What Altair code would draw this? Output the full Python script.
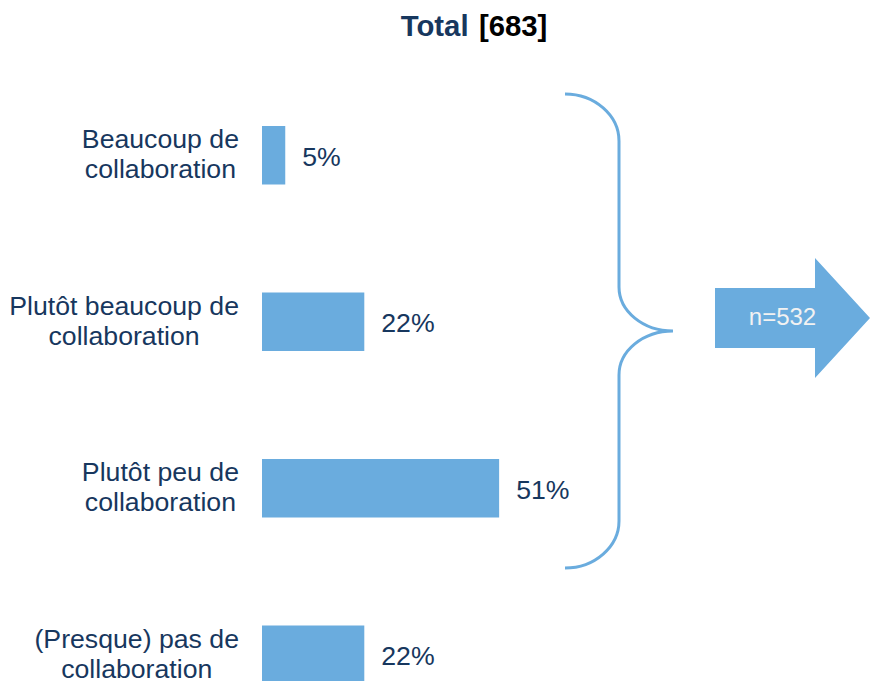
import altair as alt
import pandas as pd

# ---- data -------------------------------------------------------------
categories = [
    "Beaucoup de\ncollaboration",
    "Plutôt beaucoup de\ncollaboration",
    "Plutôt peu de\ncollaboration",
    "(Presque) pas de\ncollaboration",
]
values = [5, 22, 51, 22]
title_main = "Total"
title_base = "[683]"
arrow_label = "n=532"

# ---- style ------------------------------------------------------------
BLUE = "#6AACDE"
NAVY = "#17375E"
FONT = "Liberation Sans"

W, H = 871, 679
S = 863.0 / 871.0          # the page shrinks the svg to fit its width
M = 8.0                    # page margin
OY = H * (1 - S) / 2       # vertical centring of the shrunken drawing


def px(v):                 # screen x -> chart x
    return (v - M) / S


def py(v):                 # screen y -> chart y
    return (v - M - OY) / S


def ln(v):                 # screen length -> chart length
    return v / S


LABEL_SIZE = ln(26.67)
TITLE_SIZE = ln(29.33)
N_SIZE = ln(24)

# Arial / Liberation Sans advance widths (1/1000 em) used to centre lines
REG = {" ": 278, "(": 333, ")": 333, "P": 667, "B": 667, "a": 556, "b": 556,
       "c": 500, "d": 556, "e": 556, "i": 222, "l": 222, "n": 556, "o": 556,
       "p": 556, "q": 556, "r": 333, "s": 500, "t": 278, "u": 556, "ô": 556}
BOLD = {" ": 278, "T": 611, "o": 611, "t": 333, "a": 556, "l": 278,
        "[": 333, "]": 333, "6": 556, "8": 556, "3": 556}


def text_width(s, table, size):
    return sum(table.get(ch, 556) for ch in s) * size / 1000.0


X0, X1 = px(262), px(727)   # chart range of the 0..100 % axis
px_per = (X1 - X0) / 100.0
label_right = px(239)

df = pd.DataFrame({"cat": categories, "value": values})
df["pct"] = [f"{v}%" for v in values]
df["lx"] = [
    (label_right - X0 - text_width(c.split("\n")[0], REG, LABEL_SIZE) / 2) / px_per
    for c in categories
]

yscale = alt.Scale(domain=categories, range=[py(72), py(738)],
                   paddingInner=0.65, paddingOuter=0.325)
xscale = alt.Scale(domain=[0, 100], range=[X0, X1])

base = alt.Chart(df)

bars = base.mark_bar(color=BLUE).encode(
    x=alt.X("value:Q", scale=xscale, axis=None),
    y=alt.Y("cat:N", scale=yscale, axis=None, sort=categories),
)

pct = base.mark_text(align="left", baseline="middle", dx=ln(17), dy=ln(2.5), font=FONT,
                     fontSize=LABEL_SIZE, color=NAVY).encode(
    x=alt.X("value:Q", scale=xscale, axis=None),
    y=alt.Y("cat:N", scale=yscale, axis=None, sort=categories),
    text="pct:N",
)

cat_labels = base.mark_text(align="center", baseline="middle", lineBreak="\n",
                            lineHeight=ln(30), dy=-ln(15), font=FONT,
                            fontSize=LABEL_SIZE, color=NAVY).encode(
    x=alt.X("lx:Q", scale=xscale, axis=None),
    y=alt.Y("cat:N", scale=yscale, axis=None, sort=categories),
    text="cat:N",
)

# ---- decorations --------------------------------------------------------
deco = pd.DataFrame({"t1": [title_main], "t2": [title_base], "n": [arrow_label]})

title_cx = px(474)
total_w = text_width(title_main + " " + title_base, BOLD, TITLE_SIZE)
t1_x = title_cx - total_w / 2
t2_x = t1_x + text_width(title_main + " ", BOLD, TITLE_SIZE)

title1 = alt.Chart(deco).mark_text(align="left", baseline="alphabetic", font=FONT,
                                   fontSize=TITLE_SIZE, fontWeight="bold",
                                   color=NAVY).encode(
    x=alt.value(t1_x), y=alt.value(py(36)), text="t1:N")
title2 = alt.Chart(deco).mark_text(align="left", baseline="alphabetic", font=FONT,
                                   fontSize=TITLE_SIZE, fontWeight="bold",
                                   color="#000000").encode(
    x=alt.value(t2_x), y=alt.value(py(36)), text="t2:N")

# curly brace as a custom symbol path (coordinates in a [-1, 1] box)
BH = 240.0
def p(x, y):
    return f"{x / BH:.4f} {y / BH:.4f}"

brace_path = (
    f"M {p(-54, -237)} "
    f"C {p(-24.2, -237)} {p(0, -215.5)} {p(0, -190)} "
    f"L {p(0, -44)} "
    f"C {p(0, -19.7)} {p(24.2, 0)} {p(54, 0)} "
    f"C {p(24.2, 0)} {p(0, 19.7)} {p(0, 44)} "
    f"L {p(0, 190)} "
    f"C {p(0, 215.5)} {p(-24.2, 237)} {p(-54, 237)}"
)
brace = alt.Chart(deco).mark_point(shape=brace_path, size=ln(2 * BH) ** 2, filled=False,
                                   stroke=BLUE, strokeWidth=ln(3), opacity=1).encode(
    x=alt.value(px(619)), y=alt.value(py(331)))

# block arrow (centre at screen x 793, spanning 715..870)
AH = 78.0
def q(x, y):
    return f"{x / AH:.4f} {y / AH:.4f}"

arrow_path = (
    f"M {q(-78, -30)} L {q(22, -30)} L {q(22, -60)} L {q(77, 0)} "
    f"L {q(22, 60)} L {q(22, 30)} L {q(-78, 30)} Z"
)
arrow = alt.Chart(deco).mark_point(shape=arrow_path, size=ln(2 * AH) ** 2, filled=True,
                                   fill=BLUE, strokeWidth=0, opacity=1).encode(
    x=alt.value(px(793)), y=alt.value(py(318)))

arrow_text = alt.Chart(deco).mark_text(align="center", baseline="middle", font=FONT,
                                       fontSize=N_SIZE, color="#F2F2F2").encode(
    x=alt.value(px(782.5)), y=alt.value(py(318)), text="n:N")

chart = alt.layer(
    bars, pct, cat_labels, title1, title2, brace, arrow, arrow_text
).properties(
    width=W, height=H, padding=0,
    autosize=alt.AutoSizeParams(type="none"),
).configure_view(stroke=None)

chart.save("out.html", embed_options={"renderer": "svg", "actions": False})
